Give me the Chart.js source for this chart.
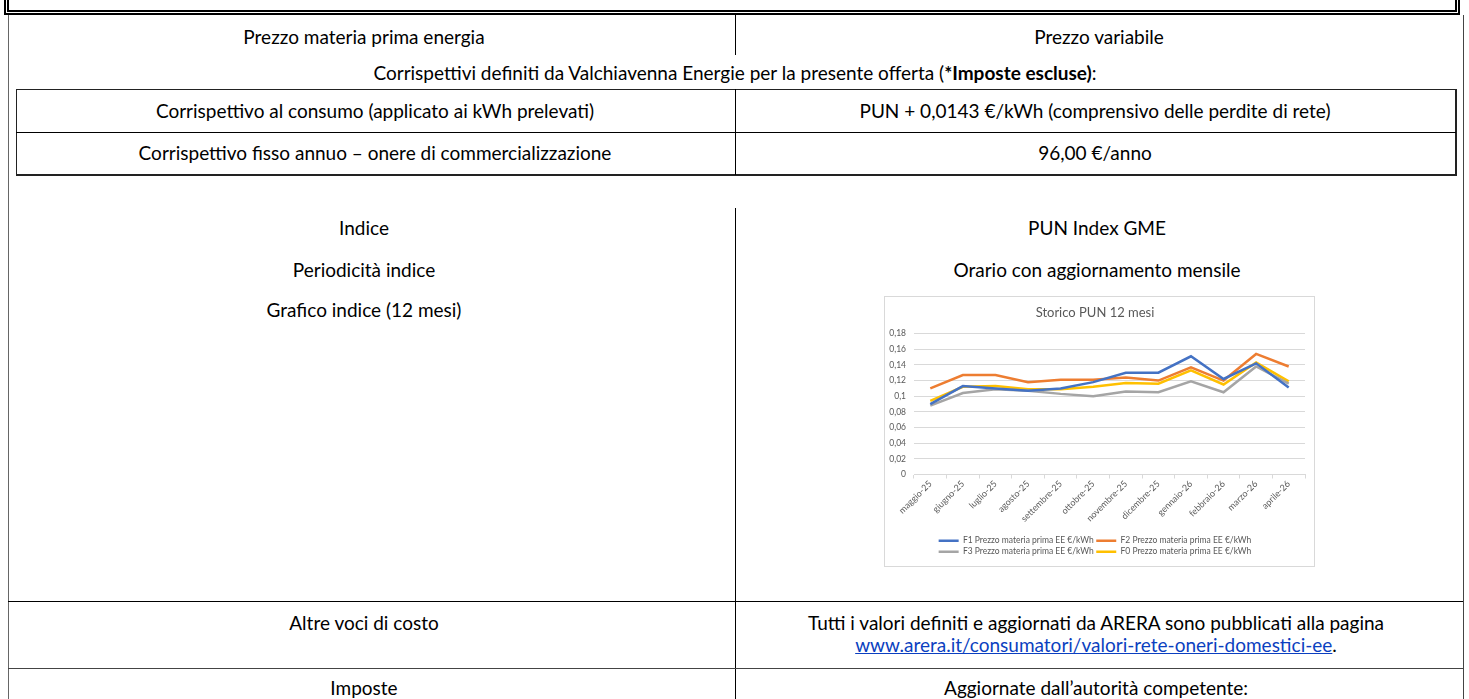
<!DOCTYPE html>
<html><head><meta charset="utf-8">
<script src="https://cdn.jsdelivr.net/npm/chart.js@4.4.0/dist/chart.umd.min.js"></script>
<style>
html,body{margin:0;padding:0;background:#fff;}
body{width:1469px;height:699px;position:relative;overflow:hidden;font-family:Lato,"Liberation Sans",sans-serif;font-size:19px;color:#000;}
.abs{position:absolute;}
.t{position:absolute;white-space:nowrap;height:24px;line-height:24px;transform:translateX(-50%);}
.hl{position:absolute;height:0;border-top:1px solid #000;}
.vl{position:absolute;width:0;border-left:1px solid #000;}
a{color:#0b3fc0;text-decoration:underline;}
#chartBox{position:absolute;left:884px;top:296px;width:431px;height:271px;border:1px solid #d9d9d9;box-sizing:border-box;background:#fff;}
</style></head><body>
<div class="abs" style="left:4px;top:-12px;width:1446px;height:17px;border:5px double #000;"></div>
<div class="vl" style="left:8px;top:15px;height:690px;border-color:#666;"></div>
<div class="vl" style="left:1463px;top:15px;height:690px;border-color:#444;"></div>

<div class="vl" style="left:735px;top:15px;height:40px;"></div>
<div class="t" style="left:364px;top:25px;">Prezzo materia prima energia</div>
<div class="t" style="left:1099px;top:25px;">Prezzo variabile</div>
<div class="t" style="left:735px;top:61px;">Corrispettivi definiti da Valchiavenna Energie per la presente offerta (<b>*Imposte escluse)</b>:</div>

<div class="abs" style="left:16px;top:89px;width:1438px;height:84px;border:1px solid #222;border-right-width:2px;border-bottom-width:2px;"></div>
<div class="hl" style="left:16px;top:132px;width:1440px;"></div>
<div class="vl" style="left:735px;top:89px;height:86px;"></div>
<div class="t" style="left:375px;top:99px;">Corrispettivo al consumo (applicato ai kWh prelevati)</div>
<div class="t" style="left:1095px;top:99px;">PUN + 0,0143 €/kWh (comprensivo delle perdite di rete)</div>
<div class="t" style="left:375px;top:141px;">Corrispettivo fisso annuo – onere di commercializzazione</div>
<div class="t" style="left:1095px;top:141px;">96,00 €/anno</div>

<div class="vl" style="left:735px;top:208px;height:500px;"></div>
<div class="t" style="left:364px;top:216px;">Indice</div>
<div class="t" style="left:364px;top:258px;">Periodicità indice</div>
<div class="t" style="left:364px;top:298px;">Grafico indice (12 mesi)</div>
<div class="t" style="left:1097px;top:216px;">PUN Index GME</div>
<div class="t" style="left:1097px;top:258px;">Orario con aggiornamento mensile</div>

<div id="chartBox"><canvas id="c"></canvas></div>

<div class="hl" style="left:8px;top:601px;width:1455px;"></div>
<div class="t" style="left:364px;top:611px;">Altre voci di costo</div>
<div class="t" style="left:1096px;top:611px;">Tutti i valori definiti e aggiornati da ARERA sono pubblicati alla pagina</div>
<div class="t" style="left:1096px;top:633px;"><a>www.arera.it/consumatori/valori-rete-oneri-domestici-ee</a>.</div>
<div class="hl" style="left:8px;top:668px;width:1455px;border-color:#444;"></div>
<div class="t" style="left:364px;top:676px;">Imposte</div>
<div class="t" style="left:1096px;top:676px;">Aggiornate dall’autorità competente:</div>

<script>
const months = ["maggio-25","giugno-25","luglio-25","agosto-25","settembre-25","ottobre-25","novembre-25","dicembre-25","gennaio-26","febbraio-26","marzo-26","aprile-26"];
const f1 = [0.090,0.113,0.110,0.107,0.110,0.118,0.130,0.130,0.151,0.122,0.142,0.111];
const f2 = [0.110,0.127,0.127,0.118,0.121,0.121,0.124,0.120,0.137,0.120,0.154,0.138];
const f3 = [0.088,0.104,0.109,0.107,0.103,0.100,0.106,0.105,0.119,0.105,0.138,0.116];
const f0 = [0.094,0.112,0.113,0.109,0.109,0.112,0.117,0.116,0.133,0.115,0.143,0.119];
const seriesNames = ["F1 Prezzo materia prima EE €/kWh","F2 Prezzo materia prima EE €/kWh","F3 Prezzo materia prima EE €/kWh","F0 Prezzo materia prima EE €/kWh"];
const seriesColors = ["#4472C4","#ED7D31","#A5A5A5","#FFC000"];
const yMin = 0, yMax = 0.18, yStep = 0.02;
const chartTitle = "Storico PUN 12 mesi";

const FONT = "Lato, 'Liberation Sans', sans-serif";
const grey = "#595959";
const gridC = "#d9d9d9";
const allSeries = [f1,f2,f3,f0];

new Chart(document.getElementById('c'), {
  type: 'line',
  data: {
    labels: months,
    datasets: allSeries.map((d,i)=>({
      label: seriesNames[i], data: d,
      borderColor: seriesColors[i], backgroundColor: seriesColors[i],
      borderWidth: 2.5, pointRadius: 0, tension: 0, fill: false
    }))
  },
  options: {
    responsive: true, maintainAspectRatio: false, animation: false,
    layout: { padding: { left: 0, right: 9, top: 0, bottom: 0 } },
    plugins: {
      title: { display: true, text: chartTitle, color: grey,
        font: { family: FONT, size: 13, weight: 'normal' }, padding: { top: 8, bottom: 13 } },
      legend: { position: 'bottom',
        labels: { color: grey, font: { family: FONT, size: 8.5 }, usePointStyle: true, pointStyle: 'line',
          pointStyleWidth: 20, boxHeight: 8, padding: 2.5 } },
      tooltip: { enabled: false }
    },
    scales: {
      x: {
        offset: true,
        afterFit: s => { s.height = 59.5; },
        grid: { drawOnChartArea: false, drawTicks: true, tickLength: 4, color: gridC, offset: true },
        border: { color: gridC },
        ticks: { color: grey, font: { family: FONT, size: 9 }, minRotation: 45, maxRotation: 45, autoSkip: false, padding: 0 }
      },
      y: {
        min: yMin, max: yMax,
        afterFit: s => { s.width = 29; },
        grid: { color: gridC, drawTicks: false },
        border: { display: false },
        ticks: { stepSize: yStep, color: grey, font: { family: FONT, size: 8.5 }, padding: 8,
          callback: v => String(+(+v).toFixed(2)).replace('.', ',') }
      }
    }
  }
});
</script>
</body></html>
